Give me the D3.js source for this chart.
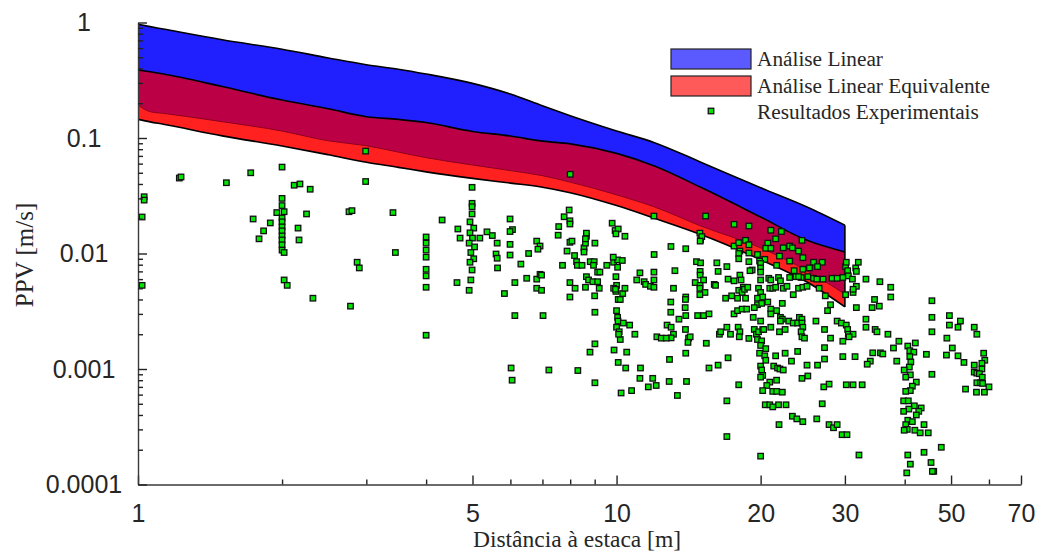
<!DOCTYPE html>
<html><head><meta charset="utf-8">
<script src="https://cdn.jsdelivr.net/npm/d3@7"></script>
<style>
body{margin:0;background:#fff}
svg{display:block}
.tick text{font-family:"Liberation Sans",Arial,sans-serif;font-size:25px;fill:#262626}
.serif{font-family:"Liberation Serif","Times New Roman",serif;fill:#262626}
</style>
</head><body>
<svg id="chart" width="1037" height="556"></svg>
<script>
// ---- data ----
const bandDistance = [1,1.06,1.13,1.5,2,2.5,3,3.5,4,5,6,7,8,10,12,15,20,25,30];
const linearUpper  = [0.965,0.921,0.877,0.708,0.587,0.493,0.431,0.394,0.358,0.297,0.240,0.190,0.156,0.115,0.0911,0.0618,0.0371,0.0253,0.0176];
const linearLower  = [0.193,0.169,0.1635,0.1385,0.1149,0.0945,0.0858,0.0755,0.0676,0.0584,0.0522,0.0472,0.0415,0.0322,0.0253,0.0173,0.0112,0.00708,0.00445];
const equivUpper   = [0.388,0.374,0.358,0.279,0.213,0.179,0.153,0.145,0.136,0.114,0.104,0.0939,0.0890,0.0736,0.0573,0.0374,0.0207,0.0130,0.0103];
const equivLower   = [0.145,0.138,0.1315,0.1044,0.0853,0.0716,0.0617,0.0557,0.0509,0.0447,0.0407,0.0375,0.0336,0.0260,0.0202,0.0146,0.00884,0.00566,0.00345];

const experimental = [
[1.03,0.031],[1.03,0.029],[1.02,0.0207],[1.02,0.0053],
[1.22,0.045],[1.23,0.046],[1.53,0.041],[1.72,0.050],[2.0,0.056],
[2.12,0.039],[2.18,0.040],[2.29,0.036],[2.99,0.042],[2.99,0.077],
[2.0,0.030],[2.0,0.026],[1.95,0.0226],[2.02,0.023],[2.25,0.022],
[2.76,0.023],[2.80,0.0235],[3.41,0.0226],
[4.99,0.0374],[4.99,0.0272],[4.99,0.0254],[4.99,0.022],
[1.74,0.0199],[1.79,0.0134],[1.83,0.0157],[1.89,0.0184],
[2.0,0.0203],[2.0,0.0188],[2.0,0.017],[2.0,0.0157],[2.0,0.0142],[2.0,0.0131],[2.0,0.0119],[2.0,0.0107],[2.02,0.0102],
[2.02,0.0059],[2.05,0.0053],[2.16,0.0166],[2.17,0.0131],
[2.32,0.0041],[2.78,0.0035],[2.87,0.0084],[2.90,0.0075],[3.45,0.0102],
[4.0,0.0139],[4.0,0.0123],[4.0,0.0107],[4.0,0.0093],[4.0,0.0073],[4.0,0.0064],[4.0,0.0051],[4.0,0.00196],
[4.32,0.0195],[4.66,0.0163],[4.71,0.0136],[4.64,0.0056],
[4.94,0.0188],[5.03,0.0166],[4.94,0.0151],[5.0,0.0136],[4.92,0.0123],[5.05,0.0114],[4.96,0.0102],[5.03,0.009],[4.94,0.0084],[4.99,0.0072],[4.96,0.0059],[4.92,0.0048],
[5.18,0.0136],[5.36,0.0154],[5.64,0.0075],[5.83,0.0045],
[6.13,0.0029],[6.02,0.00102],[6.05,0.0008],[7.22,0.00098],[8.3,0.00097],[7.02,0.0029],
[5.99,0.0199],[6.06,0.0161],[5.99,0.0155],[5.50,0.0143],[5.63,0.0123],[5.99,0.012],[5.99,0.0097],[5.60,0.0099],[5.63,0.0091],[6.31,0.0081],[6.55,0.0100],[6.81,0.0128],[6.92,0.0116],[6.85,0.0109],[7.57,0.0171],[7.77,0.0208],[7.96,0.0238],[7.99,0.0192],[7.99,0.018],[7.55,0.0144],[7.88,0.0105],[7.99,0.0125],[8.07,0.0128],[8.17,0.0096],[8.25,0.0085],[8.28,0.0079],[8.47,0.0079],[7.71,0.0079],[8.55,0.0112],[8.65,0.0141],[8.65,0.015],[8.61,0.0123],[8.55,0.0103],[9.01,0.0123],[8.81,0.0085],[8.98,0.0085],[9.13,0.0069],[9.23,0.0069],[8.95,0.0079],[9.54,0.0079],[9.79,0.0183],[9.93,0.0158],[10.08,0.0163],[9.97,0.0148],[10.41,0.0141],[9.86,0.0084],[10.05,0.0088],[10.28,0.0087],[9.84,0.0093],[10.05,0.0076],[11.98,0.0098],[12.99,0.0115],[13.95,0.011],[14.69,0.0085],[14.98,0.0083],[14.93,0.015],[14.98,0.0131],[15.07,0.014],[6.13,0.0056],[6.49,0.0061],[6.81,0.006],[6.92,0.0066],[6.97,0.0065],[6.81,0.005],[6.97,0.0048],[7.99,0.0056],[8.19,0.005],[7.99,0.0042],[8.65,0.0063],[8.74,0.0059],[8.92,0.0057],[9.13,0.0057],[8.61,0.0051],[9.0,0.0043],[9.2,0.005],[9.97,0.0063],[10.0,0.0053],[9.97,0.0047],[9.86,0.005],[10.12,0.004],[10.3,0.0045],[10.41,0.005],[11.02,0.0059],[11.42,0.0057],[11.5,0.0054],[11.97,0.0059],[11.77,0.0052],[11.97,0.0069],[11.19,0.0068],[13.24,0.0071],[12.98,0.0038],[13.95,0.0042],[13.93,0.004],[13.91,0.0034],[8.0,0.0485],
[11.97,0.0211],[15.35,0.0211],[17.6,0.0179],[18.9,0.0173],[21.0,0.0159],[22.1,0.0155],[8.61,0.0134],[14.95,0.0128],[18.6,0.013],[24.4,0.013],[21.5,0.0134],
[17.6,0.0116],[18.0,0.0124],[18.1,0.0105],[18.9,0.0119],[20.7,0.0123],[20.5,0.0111],[21.0,0.0111],[22.3,0.0112],[23.0,0.0116],[23.3,0.0112],[24.0,0.0105],
[18.0,0.01],[18.0,0.009],[18.9,0.0101],[18.9,0.0085],[19.7,0.0098],[21.9,0.0095],[24.5,0.0092],[20.4,0.0089],[19.9,0.0086],[20.0,0.0082],[20.0,0.0075],[20.0,0.0069],[23.0,0.0086],[25.8,0.0084],[26.9,0.0084],[26.3,0.0077],[25.3,0.0075],[24.5,0.0073],[21.6,0.0079],[23.5,0.0071],
[16.2,0.0083],[17.0,0.0077],[14.95,0.007],[14.95,0.0065],[15.2,0.0059],[14.6,0.0056],[14.95,0.0053],[14.93,0.005],[15.3,0.0046],[14.93,0.0044],[16.3,0.007],[17.1,0.006],[18.1,0.0065],[18.2,0.0059],[18.0,0.0048],[18.4,0.0051],[18.3,0.0046],[18.5,0.0049],[18.8,0.0051],[18.6,0.0041],[17.6,0.0058],[16.0,0.0054],[16.1,0.0053],[19.2,0.0072],[19.0,0.0071],
[20.0,0.0059],[19.8,0.005],[20.0,0.0046],[19.7,0.0041],[20.2,0.0042],[20.8,0.0061],[21.0,0.0059],[20.9,0.005],[21.2,0.005],[21.8,0.0062],[22.0,0.0058],[21.5,0.0051],[22.3,0.005],[22.7,0.0052],[23.0,0.0062],[23.4,0.0044],[24.0,0.005],[24.3,0.0062],[24.5,0.0051],[25.0,0.0052],[23.7,0.0063],[24.0,0.0063],[25.1,0.0063],[25.8,0.0061],[26.2,0.006],[27.0,0.006],[28.2,0.0061],[28.9,0.0061],[26.5,0.005],[27.3,0.0043],[28.0,0.0036],[27.6,0.0032],
[29.7,0.0062],[30.1,0.0077],[30.2,0.0084],[30.4,0.0071],[30.5,0.0064],[31.1,0.006],[31.6,0.0075],[32.0,0.0084],[31.7,0.007],[33.2,0.006],[30.1,0.0044],[31.2,0.0046],[31.7,0.0052],[31.2,0.0049],[31.7,0.0034],
[35.5,0.0057],[37.4,0.0051],[37.4,0.0042],[34.6,0.004],[34.2,0.0034],[35.4,0.0035],
[45.6,0.0039],[45.6,0.0028],[45.6,0.0021],[49.6,0.0029],[49.6,0.0024],[52.3,0.0026],[51.7,0.0023],[55.9,0.0023],[56.6,0.002],[49.0,0.00185],[50.3,0.00152],[48.9,0.00132],[51.7,0.0013],[53.2,0.00114],
[58.5,0.00137],[58.8,0.00119],[58.0,0.00112],[55.9,0.00108],[55.9,0.00094],[58.0,0.001],[56.6,0.00092],[57.3,0.00091],[58.1,0.00085],[56.6,0.00076],[57.6,0.00076],[58.2,0.00075],[60.0,0.0007],[53.6,0.00067],[56.5,0.00063],[58.7,0.00063],
[9.01,0.0031],[10.0,0.0032],[10.05,0.0028],[10.07,0.0026],[10.0,0.0023],[10.13,0.0021],[10.18,0.0018],[10.1,0.002],[10.33,0.0025],[10.65,0.0024],[10.92,0.002],
[9.95,0.0049],[10.08,0.004],[10.18,0.004],[11.97,0.0051],[13.15,0.005],[12.98,0.0031],[13.95,0.0029],[13.5,0.0027],[12.75,0.0024],[13.0,0.0023],[13.15,0.002],[13.0,0.00186],[12.14,0.0019],[12.4,0.00185],[12.7,0.00185],[13.93,0.0022],[14.14,0.00185],[14.25,0.0019],[14.1,0.0017],[14.77,0.0029],[15.2,0.0029],[15.6,0.003],
[9.01,0.00165],[8.8,0.0014],[9.88,0.00146],[10.5,0.0014],[10.08,0.00114],[10.45,0.00102],[11.22,0.00102],[11.19,0.00083],[11.9,0.00083],[12.1,0.00072],[11.65,0.0007],[10.75,0.00065],[10.22,0.00062],[12.9,0.00121],[13.95,0.00137],[12.88,0.00078],[14.0,0.00078],[13.4,0.00059],[9.01,0.00076],
[15.4,0.00167],[15.6,0.00102],[16.3,0.00108],[17.1,0.00125],
[16.9,0.0041],[17.4,0.0043],[17.9,0.0041],[17.6,0.003],[17.9,0.0032],[18.3,0.0033],[18.7,0.0033],[19.3,0.0028],[20.0,0.0026],[17.0,0.0023],[17.3,0.002],[17.95,0.0023],[18.1,0.0021],[18.05,0.0019],[18.9,0.00184],[16.4,0.002],[16.5,0.0021],
[19.7,0.0036],[20.1,0.0037],[20.7,0.0038],[19.4,0.0034],[21.0,0.0033],[21.6,0.0032],[21.0,0.003],[22.2,0.0037],[22.0,0.0028],[22.2,0.0027],
[19.4,0.0022],[19.6,0.002],[19.8,0.0021],[20.2,0.0022],[20.3,0.0022],[21.0,0.0023],[19.7,0.0018],[20.1,0.00175],[21.9,0.0021],[22.5,0.0022],[22.0,0.0026],[22.9,0.0026],[23.4,0.0025],[23.9,0.0025],[24.1,0.0028],[24.4,0.0027],[24.4,0.0025],[24.5,0.0023],[24.3,0.0021],[24.4,0.0019],[24.7,0.00185],
[20.0,0.0016],[20.5,0.0015],[19.9,0.00137],[20.4,0.0013],[20.5,0.00119],[20.0,0.00106],[20.1,0.00098],[20.2,0.00088],[20.0,0.00085],[21.5,0.0013],[22.5,0.00137],[23.2,0.00117],[21.3,0.00106],[21.7,0.00102],[21.95,0.001],[22.3,0.00098],[23.9,0.00142],
[20.9,0.00077],[20.6,0.00072],[20.2,0.00065],[21.2,0.00064],[21.6,0.00064],[22.2,0.00063],[21.6,0.0008],[20.45,0.00049],[20.9,0.00049],[21.2,0.00047],[21.8,0.00049],[22.6,0.00049],[17.0,0.00053],[17.0,0.00026],[20.0,0.000176],[18.0,0.00073],
[25.0,0.00108],[26.3,0.00108],[25.1,0.00087],[24.4,0.00083],[27.8,0.00074],[27.1,0.0007],[26.9,0.0005],[23.3,0.00039],[23.8,0.00037],[24.5,0.00035],[26.2,0.00037],[21.85,0.00033],[27.8,0.00033],[28.4,0.00031],[28.9,0.00033],[29.6,0.00027],[30.3,0.00027],[32.1,0.00018],
[26.1,0.0026],[27.2,0.0022],[28.0,0.00185],[27.2,0.00153],[27.2,0.00122],[29.7,0.00128],[31.5,0.00128],[29.7,0.00174],[28.9,0.0026],[29.5,0.0025],[30.2,0.0024],[30.4,0.0022],[30.5,0.002],[31.2,0.002],[30.6,0.0019],[30.2,0.00073],[31.2,0.00073],[32.6,0.00073],
[33.2,0.0027],[33.2,0.0023],[34.7,0.0022],[35.0,0.0021],[36.9,0.002],[34.3,0.00138],[35.6,0.00138],[36.0,0.00135],[33.9,0.00117],[33.4,0.0011],
[37.9,0.00152],[38.9,0.00174],[40.6,0.00158],[41.0,0.00144],[42.1,0.00168],[41.8,0.0014],[44.4,0.00134],[38.5,0.00117],[41.0,0.00128],[41.2,0.00115],[40.9,0.00104],[39.9,0.00098],[41.1,0.00089],[40.2,0.00085],[42.3,0.00077],[41.5,0.00071],[41.1,0.00065],[40.2,0.00064],[39.8,0.00053],[40.7,0.00053],[41.9,0.00048],[43.3,0.00046],[42.8,0.00043],[42.3,0.0004],[40.8,0.00045],[39.8,0.00043],[40.6,0.00036],[40.2,0.00033],[41.5,0.00035],[40.5,0.0003],[39.9,0.000295],[42.0,0.000295],[43.1,0.00028],[44.8,0.00028],[43.9,0.00033],[45.6,0.0009],[47.7,0.00021],[43.9,0.00019],[45.4,0.000155],[40.6,0.00018],[41.1,0.00015],[40.4,0.000126],[46.0,0.00013],[45.7,0.00013]
];

const xMajorTicks = [1,5,10,20,30,50,70];
const xMinorTicks = [2,3,4,6,7,8,9,40,60];
const yMajorTicks = [1,0.1,0.01,0.001,0.0001];
const yTickLabels = ["1","0.1","0.01","0.001","0.0001"];
const yMinorTicks = [];
[1e-4,1e-3,1e-2,1e-1].forEach(d => { for (let k = 2; k <= 9; k++) yMinorTicks.push(+(d*k).toPrecision(3)); });
const legendLabels = ["Análise Linear","Análise Linear Equivalente","Resultados Experimentais"];
const xTitle = "Distância à estaca [m]";
const yTitle = "PPV [m/s]";

// ---- drawing ----
const svg = d3.select("#chart");
const x = d3.scaleLog().domain([1,70]).range([138,1021]);
const y = d3.scaleLog().domain([0.0001,1]).range([484.5,22.5]);

const band = (lo, hi) => d3.area().curve(d3.curveMonotoneX)
  .x((d,i) => x(bandDistance[i])).y0((d,i) => y(lo[i])).y1((d,i) => y(hi[i]))(bandDistance);
const curve = vals => d3.line().curve(d3.curveMonotoneX)
  .x((d,i) => x(bandDistance[i])).y((d,i) => y(vals[i]))(bandDistance);

const gB = svg.append("g");
gB.append("path").attr("d", band(linearLower, linearUpper)).attr("fill", "#2020ff");
gB.append("path").attr("d", band(equivLower, equivUpper)).attr("fill", "#ff2020");
gB.append("path").attr("d", band(linearLower, equivUpper)).attr("fill", "#bc0046");
gB.append("path").attr("d", curve(linearLower)).attr("fill","none").attr("stroke","#8e0020").attr("stroke-width",1);
[linearUpper, equivUpper, equivLower].forEach(v =>
  gB.append("path").attr("d", curve(v)).attr("fill","none").attr("stroke","#000").attr("stroke-width",1.6));
const last = bandDistance.length - 1;
gB.append("line")
  .attr("x1", x(bandDistance[last])).attr("x2", x(bandDistance[last]))
  .attr("y1", y(linearUpper[last])).attr("y2", y(equivLower[last]))
  .attr("stroke","#000").attr("stroke-width",1.6);

// scatter
const ms = 5.5;
svg.append("g").selectAll("rect").data(experimental).join("rect")
  .attr("x", d => x(d[0]) - ms/2).attr("y", d => y(d[1]) - ms/2)
  .attr("width", ms).attr("height", ms)
  .attr("fill", "#00e600").attr("stroke", "#111").attr("stroke-width", 1.3);

// axes
const axisColor = "#3a3a3a";
const gx = svg.append("g").attr("transform", `translate(0,${y(0.0001)})`);
gx.call(d3.axisBottom(x).tickValues(xMajorTicks).tickSize(-9).tickSizeOuter(0).tickPadding(19.5).tickFormat(d3.format("d")));
const gxm = svg.append("g").attr("transform", `translate(0,${y(0.0001)})`);
gxm.call(d3.axisBottom(x).tickValues(xMinorTicks).tickSize(-5).tickSizeOuter(0).tickFormat(""));
gxm.select(".domain").remove();

const gy = svg.append("g").attr("transform", `translate(${x(1)},0)`);
gy.call(d3.axisLeft(y).tickValues(yMajorTicks).tickSize(-9).tickSizeOuter(0).tickPadding(54).tickFormat((d,i) => yTickLabels[i]));
gy.selectAll(".tick text").attr("text-anchor","middle");
const gym = svg.append("g").attr("transform", `translate(${x(1)},0)`);
gym.call(d3.axisLeft(y).tickValues(yMinorTicks).tickSize(-5).tickSizeOuter(0).tickFormat(""));
gym.select(".domain").remove();

svg.selectAll(".domain").attr("stroke", axisColor).attr("stroke-width", 1.4);
svg.selectAll(".tick line").attr("stroke", "#222").attr("stroke-width", 1.4);
svg.selectAll(".tick text").attr("fill","#262626");

// titles
svg.append("text").attr("class","serif").attr("x", 577).attr("y", 547)
  .attr("text-anchor","middle").attr("font-size", 23.5).text(xTitle);
svg.append("text").attr("class","serif")
  .attr("transform","translate(33,255) rotate(-90)")
  .attr("text-anchor","middle").attr("font-size", 25).text(yTitle);

// legend
const lg = svg.append("g");
const swatch = [["#5a5aff", 49],["#ff5a5a", 76]];
swatch.forEach(([c, yy]) => lg.append("rect").attr("x", 671).attr("y", yy).attr("width", 80).attr("height", 20)
  .attr("fill", c).attr("stroke", "#222").attr("stroke-width", 1.2));
lg.append("rect").attr("x", 711 - ms/2).attr("y", 111 - ms/2).attr("width", ms).attr("height", ms)
  .attr("fill", "#00e600").attr("stroke", "#111").attr("stroke-width", 1.3);
[66, 92.5, 118.5].forEach((yy, i) => lg.append("text").attr("class","serif").attr("x", 757).attr("y", yy)
  .attr("font-size", 21.3).text(legendLabels[i]));
</script>
</body></html>
